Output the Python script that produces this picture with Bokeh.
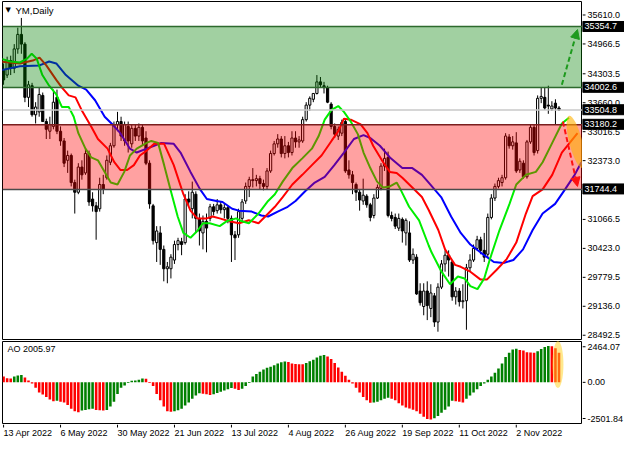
from bokeh.plotting import figure
from bokeh.layouts import column, row
from bokeh.models import (Range1d, Label, Arrow, NormalHead, ColumnDataSource,
                          BoxAnnotation, Span, Spacer)
from bokeh.core.properties import value
from bokeh.embed import file_html
from bokeh.resources import INLINE

FONT = "Liberation Sans"

# ---------------- data ----------------
date_tick_idx = [0, 16, 32, 48, 64, 80, 96, 112, 128, 144]
date_tick_labels = ["13 Apr 2022", "6 May 2022", "30 May 2022", "21 Jun 2022", "13 Jul 2022",
                    "4 Aug 2022", "26 Aug 2022", "19 Sep 2022", "11 Oct 2022", "2 Nov 2022"]

open_ = [34387, 34280, 34601, 34430, 34859, 35181, 34966, 33786, 34044, 33400,
         33464, 33829, 33250, 33035, 33142, 33786, 33035, 32820, 32391, 32498,
         31898, 31683, 32241, 32112, 32541, 31533, 31382, 31318, 31855, 32005,
         32348, 32713, 33185, 33250, 32820, 33142, 32756, 33099, 32928, 33121,
         32885, 32327, 31382, 30567, 30782, 30417, 29988, 29988, 30181, 30524,
         30588, 30567, 31533, 31318, 31640, 31104, 30782, 31039, 31104, 31361,
         31275, 31404, 31297, 31340, 31104, 30739, 30739, 31104, 31490, 31812,
         31962, 31941, 31984, 31876, 31812, 32155, 32541, 32756, 32863, 32541,
         32713, 32563, 32885, 32799, 32820, 33292, 33614, 33743, 33872, 34129,
         34044, 34001, 33636, 33142, 32928, 32992, 33250, 32177, 32069, 31855,
         31683, 31490, 31597, 31404, 31168, 31554, 31769, 32262, 32455, 31168,
         31125, 30889, 31082, 30782, 30782, 30181, 30245, 29494, 29151, 29494,
         29108, 29387, 28807, 29580, 30095, 30288, 30138, 29365, 29494, 29258,
         29279, 30009, 30181, 30438, 30631, 30395, 30309, 31125, 31554, 31812,
         31898, 32005, 32906, 32713, 32777, 32177, 32327, 32026, 32799, 33121,
         32606, 33764, 33786, 33614, 33529, 33657, 33550]
high_ = [34537, 34687, 34709, 34966, 35331, 35546, 35009, 34151, 34108, 33679,
         34001, 33893, 33314, 33357, 33958, 33958, 33142, 32885, 32606, 32541,
         31962, 32327, 32391, 32649, 32606, 31683, 31468, 32005, 32069, 32498,
         32777, 33250, 33464, 33357, 33250, 33250, 33185, 33185, 33207, 33185,
         33035, 32391, 31425, 30932, 30932, 30503, 30138, 30310, 30610, 30674,
         30674, 31640, 31704, 31919, 31704, 31211, 31168, 31211, 31425, 31425,
         31533, 31468, 31425, 31382, 31168, 30825, 31318, 31533, 31898, 32026,
         32219, 32069, 32048, 31962, 32219, 32606, 32820, 32971, 32928, 32928,
         32799, 33035, 33035, 32928, 33357, 33679, 33807, 33872, 34280, 34237,
         34129, 34044, 33679, 33207, 33142, 33292, 33314, 32391, 32155, 31898,
         31747, 31984, 31640, 31447, 31640, 31855, 32327, 32649, 32584, 31254,
         31211, 31211, 31125, 31104, 31039, 30438, 30310, 29666, 29666, 29709,
         29644, 29451, 29666, 30181, 30395, 30395, 30181, 29580, 29559, 29644,
         30095, 30309, 30524, 30717, 30696, 30782, 31211, 31640, 31876, 32005,
         32069, 32992, 32971, 32928, 33014, 32434, 32391, 32842, 33185, 33185,
         33829, 34001, 34001, 34044, 33700, 33743, 33593]
low_ = [34065, 34215, 34280, 34323, 34752, 34752, 33679, 33571, 33357, 33207,
        33357, 33250, 32863, 32863, 33078, 32971, 32713, 32241, 32112, 31812,
        31211, 31640, 31962, 32069, 31382, 31254, 30631, 31254, 31640, 31962,
        32284, 32670, 33035, 32820, 32713, 32563, 32670, 32820, 32820, 32713,
        32284, 31318, 30524, 30138, 30074, 29709, 29666, 29773, 30095, 30395,
        30288, 30524, 31382, 31104, 30782, 30503, 30417, 30352, 31039, 31168,
        31211, 31211, 31104, 30996, 30138, 30181, 30674, 31039, 31425, 31576,
        31790, 31812, 31747, 31726, 31747, 32112, 32498, 32670, 32455, 32434,
        32455, 32498, 32670, 32670, 32777, 33250, 33486, 33679, 33850, 34001,
        33872, 33657, 33078, 32885, 32842, 32928, 32112, 31984, 31640, 31490,
        31275, 31404, 31340, 31039, 31104, 31533, 31726, 32155, 31125, 31039,
        30868, 30825, 30567, 30503, 30138, 30095, 29408, 29172, 28957, 28850,
        28915, 28700, 28593, 29537, 29923, 29815, 29279, 29194, 29151, 29108,
        28636, 29923, 30138, 30395, 30309, 30138, 30245, 31082, 31490, 31769,
        31812, 31962, 32649, 32627, 32112, 32112, 31984, 31984, 32756, 32498,
        32541, 33657, 33507, 33421, 33486, 33185, 33486]
close_ = [34172, 34601, 34430, 34859, 35181, 34966, 33786, 34065, 33400, 33571,
          33850, 33250, 33078, 33185, 33679, 33035, 32820, 32327, 32498, 31898,
          31683, 32241, 32069, 32541, 31468, 31382, 31254, 31855, 31747, 32391,
          32713, 33185, 33250, 32928, 33185, 32820, 33099, 32928, 33121, 32820,
          32327, 31425, 30610, 30825, 30417, 29988, 30031, 30245, 30524, 30610,
          30524, 31533, 31468, 31683, 31104, 30825, 31039, 30889, 31361, 31254,
          31404, 31297, 31340, 31104, 30739, 30674, 31254, 31468, 31812, 31962,
          31941, 31984, 31876, 31812, 32155, 32541, 32756, 32863, 32541, 32713,
          32563, 32885, 32799, 32842, 33292, 33614, 33764, 33872, 34129, 34065,
          34001, 33679, 33142, 32971, 33078, 33228, 32155, 32069, 31898, 31683,
          31511, 31618, 31404, 31125, 31554, 31790, 32262, 32434, 31168, 31104,
          30932, 31104, 30825, 31061, 30181, 30309, 29430, 29236, 29494, 29172,
          29451, 28807, 29580, 30095, 30288, 30181, 29365, 29494, 29258, 29279,
          30009, 30181, 30438, 30631, 30395, 30245, 31125, 31554, 31812, 31941,
          32005, 32928, 32713, 32799, 32155, 32370, 32026, 32799, 33121, 32563,
          33764, 33807, 33550, 33593, 33593, 33550, 33505]

# Alligator lines (bar position, price)
jaw_x = [-0.8, 4.6, 10.1, 12.8, 14.8, 17.5, 21.0, 23.2, 25.7, 28.4,
         30.6, 32.8, 35.5, 37.4, 40.2, 42.3, 44.3, 47.8, 49.7, 52.5,
         55.2, 57.1, 59.8, 61.5, 64.2, 66.1, 69.7, 72.4, 74.3, 77.0,
         79.8, 82.0, 84.7, 87.4, 90.2, 92.9, 95.6, 98.4, 101.1, 103.0,
         105.7, 108.5, 112.0, 114.8, 117.5, 119.4, 122.9, 125.7, 128.4, 131.1,
         133.9, 137.7, 140.4, 143.2, 145.9, 148.6, 151.4, 154.9, 157.7, 160.4, 162.3]
jaw_y = [34387, 34473, 34494, 34580, 34537, 34280, 34044, 33958, 33722, 33357,
         33185, 32992, 32649, 32563, 32649, 32713, 32777, 32756, 32563, 32134,
         31747, 31533, 31490, 31468, 31318, 31275, 31254, 31168, 31146, 31254,
         31361, 31490, 31704, 31898, 32026, 32284, 32563, 32863, 32949, 32885,
         32713, 32455, 32219, 32219, 32069, 31898, 31576, 31146, 30782, 30524,
         30352, 30138, 30116, 30181, 30417, 30846, 31211, 31425, 31747, 32069, 32348]

teeth_x = [-0.8, 4.6, 8.2, 10.1, 12.0, 14.8, 16.4, 18.3, 20.2, 21.9,
           24.6, 26.5, 29.2, 31.1, 32.8, 34.7, 36.6, 38.3, 40.2, 42.3,
           45.1, 47.8, 50.5, 52.5, 54.4, 57.1, 58.7, 60.7, 63.4, 66.1,
           68.9, 71.6, 73.5, 76.2, 78.4, 81.1, 83.9, 86.6, 89.3, 92.1,
           94.0, 95.6, 97.5, 100.3, 102.2, 103.8, 106.6, 108.5, 110.4, 112.0,
           114.8, 117.5, 119.4, 122.1, 124.0, 126.8, 128.4, 131.1, 133.9, 135.8,
           138.5, 141.3, 144.0, 146.7, 148.6, 151.4, 154.1, 156.8, 161.2]
teeth_y = [34580, 34537, 34601, 34666, 34494, 34172, 34001, 33829, 33786, 33507,
           33142, 32863, 32649, 32348, 32177, 32177, 32284, 32498, 32606, 32756,
           32756, 32284, 31640, 31275, 31104, 31104, 31146, 31104, 31039, 30996,
           31061, 30996, 31146, 31361, 31576, 31855, 32069, 32284, 32498, 32820,
           33035, 33314, 33292, 33185, 32992, 32713, 32348, 32134, 32112, 32005,
           31790, 31576, 31290, 30846, 30417, 30074, 30031, 29923, 29752, 29752,
           29966, 30202, 30567, 31211, 31597, 31747, 32069, 32563, 32992]

lips_x = [-0.8, 1.9, 4.6, 6.6, 7.9, 9.3, 10.9, 12.8, 14.8, 16.4,
          18.3, 19.7, 21.0, 23.0, 24.6, 26.5, 28.4, 30.1, 32.0, 33.9,
          35.5, 37.4, 40.2, 41.5, 43.4, 45.1, 47.0, 48.9, 50.5, 52.5,
          54.4, 56.0, 57.9, 60.7, 62.6, 65.3, 66.9, 68.9, 71.6, 74.3,
          76.2, 78.4, 81.1, 83.9, 86.6, 88.5, 90.2, 92.1, 94.0, 95.6,
          97.5, 99.5, 101.1, 103.0, 104.9, 106.6, 108.5, 110.4, 111.2, 113.9,
          116.7, 119.4, 120.2, 123.0, 125.4, 127.6, 129.5, 131.1, 133.1, 135.0,
          136.6, 139.3, 142.1, 144.0, 146.7, 149.5, 151.4, 154.1, 156.8, 158.8]
lips_y = [34644, 34580, 34559, 34644, 34752, 34644, 34280, 34044, 33850, 33571,
          33571, 33357, 32992, 32649, 32455, 32391, 32134, 31898, 31855, 32134,
          32498, 32649, 32777, 32820, 32777, 32284, 31704, 31146, 30782, 30674,
          30825, 30996, 30996, 30932, 31039, 31104, 31039, 30996, 31211, 31490,
          31640, 31919, 32219, 32434, 32649, 32928, 33292, 33507, 33593, 33464,
          33250, 32971, 32563, 32219, 31919, 31790, 31812, 31898, 31790, 31361,
          31061, 30503, 30352, 29923, 29644, 29815, 29773, 29602, 29537, 29773,
          30202, 30846, 31425, 31855, 32069, 32134, 32348, 32777, 33207, 33335]

# Awesome Oscillator
ao = [394, 285, 263, 394, 460, 504, 329, 131, -85, -360,
      -678, -827, -996, -1166, -1272, -1250, -1314, -1357, -1526, -1781,
      -1950, -2014, -1908, -1866, -1823, -1781, -1866, -1887, -1908, -1866,
      -1632, -1314, -784, -360, -212, -42, 110, 131, 175, 263,
      241, -42, -254, -784, -1208, -1632, -1950, -1993, -1950, -1887,
      -1781, -1569, -1357, -1102, -890, -742, -763, -806, -848, -806,
      -721, -636, -551, -466, -382, -424, -509, -424, -254, -42,
      394, 569, 723, 876, 986, 1051, 1161, 1270, 1358, 1402,
      1380, 1270, 1248, 1226, 1220, 1314, 1424, 1533, 1686, 1796,
      1840, 1752, 1577, 1314, 1007, 723, 438, 175, -85, -360,
      -678, -996, -1208, -1378, -1357, -1314, -1208, -1102, -1039, -1102,
      -1208, -1420, -1569, -1696, -1760, -1844, -1950, -2120, -2332, -2480,
      -2501.84, -2417, -2268, -2056, -1844, -1632, -1250, -1272, -1314, -1357,
      -1102, -890, -678, -466, -254, -85, 175, 394, 657, 942,
      1270, 1708, 1993, 2212, 2278, 2190, 2146, 2037, 2015, 1993,
      2102, 2256, 2380, 2464.07, 2440, 2300, 2005.97]

price_ticks = [35610.0, 34966.5, 34303.5, 33660.0, 33016.5, 32373.0,
               31066.5, 30423.0, 29779.5, 29136.0, 28492.5]
price_tick_labels = ["35610.0", "34966.5", "34303.5", "33660.0", "33016.5", "32373.0",
                     "31066.5", "30423.0", "29779.5", "29136.0", "28492.5"]
ao_ticks = [2464.07, 0.0, -2501.84]
ao_tick_labels = ["2464.07", "0.00", "-2501.84"]

resistance_zone = [34002.6, 35354.7]
support_zone = [31744.4, 33180.2]
level_values = [35354.7, 34002.6, 33504.8, 33180.2, 31744.4]
level_texts = ["35354.7", "34002.6", "33504.8", "33180.2", "31744.4"]

n = len(open_)
assert len(high_) == n and len(low_) == n and len(close_) == n and len(ao) == n

# ---------------- geometry ----------------
PW = 582        # width of chart panels (incl. 2px left border)
AW = 42         # width of right scale panels
MAIN_H = 340
AO_H = 84
XL_H = 17
P_LO, P_HI = 28420, 35910
A_LO, A_HI = -2780, 2760

x_range = Range1d(-0.3, 162.6)
idx = list(range(n))


def base_fig(w, h, xr, yr, **kw):
    f = figure(width=w, height=h, x_range=xr, y_range=yr, output_backend="svg",
               toolbar_location=None, x_axis_location=None, y_axis_location=None, **kw)
    f.grid.visible = False
    return f


# ---------------- main price panel ----------------
p = base_fig(PW, MAIN_H, x_range, Range1d(P_LO, P_HI),
             min_border_left=2, min_border_right=0, min_border_top=1, min_border_bottom=1)
p.outline_line_color = "black"

src = ColumnDataSource(dict(
    x=idx, h=high_, l=low_,
    top=[max(o, c) for o, c in zip(open_, close_)],
    bot=[min(o, c) for o, c in zip(open_, close_)],
    fill=["white" if c >= o else "black" for o, c in zip(open_, close_)],
))
p.segment(x0="x", y0="h", x1="x", y1="l", source=src, line_color="black", line_width=1)
p.vbar(x="x", width=0.62, top="top", bottom="bot", source=src,
       fill_color="fill", line_color="black", line_width=1)

p.line(jaw_x, jaw_y, line_color="#0000ff", line_width=2)
p.line(teeth_x, teeth_y, line_color="#ff0000", line_width=2)
p.line(lips_x, lips_y, line_color="#00ee00", line_width=2)

p.add_layout(BoxAnnotation(bottom=resistance_zone[0], top=resistance_zone[1],
                           fill_color="#008000", fill_alpha=0.37, line_color=None))
p.add_layout(BoxAnnotation(bottom=support_zone[0], top=support_zone[1],
                           fill_color="#ff0000", fill_alpha=0.37, line_color=None))
level_colors = ["#2d6a2d", "#2d6a2d", "#c8c8c8", "#7a1f1f", "#4a4a4a"]
for lv, lc in zip(level_values, level_colors):
    p.add_layout(Span(location=lv, dimension="width", line_color=lc, line_width=1.5))

p.add_layout(Arrow(end=NormalHead(size=9, fill_color="#1e9a1e", line_color="#1e9a1e"),
                   x_start=156.8, y_start=34065, x_end=161.2, y_end=35288,
                   line_color="#1e9a1e", line_width=2, line_dash="5 3"))
p.add_layout(Arrow(end=NormalHead(size=9, fill_color="#ff1010", line_color="#ff1010"),
                   x_start=157.1, y_start=33250, x_end=161.2, y_end=31812,
                   line_color="#ff1010", line_width=2, line_dash="5 3"))
p.ellipse(x=[160.7], y=[32799], width=13, height=54, width_units="screen",
          height_units="screen", angle=0.25, fill_color="#ffb000", fill_alpha=0.6,
          line_color=None, level="overlay")

p.add_layout(Label(x=-0.3, y=35717, x_offset=3, text="\u25bc", text_font="DejaVu Sans",
                   text_font_size="7px", text_baseline="middle", text_color="black"))
p.add_layout(Label(x=-0.3, y=35717, x_offset=13, text="YM,Daily", text_font=FONT,
                   text_font_size="9.5px", text_baseline="middle", text_color="black"))

# right price scale (same price scale, frame 1px taller at the bottom)
px_per_unit = (MAIN_H - 2) / (P_HI - P_LO)
pa = base_fig(AW, MAIN_H, Range1d(0, AW), Range1d(P_LO - 1 / px_per_unit, P_HI),
              min_border_left=0, min_border_right=0, min_border_top=1, min_border_bottom=0)
pa.outline_line_color = None
pa.segment(x0=[0] * len(price_ticks), x1=[3] * len(price_ticks), y0=price_ticks,
           y1=price_ticks, line_color="black", line_width=1)
pa.text(x=[5] * len(price_ticks), y=price_ticks, text=price_tick_labels,
        text_font=value(FONT), text_font_size="9px", text_baseline="middle",
        text_align="left", text_color="black")
pa.rect(x=[AW / 2] * len(level_values), y=level_values, width=[AW] * len(level_values),
        height=10, height_units="screen", fill_color="black", line_color="black")
pa.text(x=[2] * len(level_values), y=level_values, text=level_texts,
        text_font=value(FONT), text_font_size="9px", text_baseline="middle",
        text_align="left", text_color="white")

# ---------------- AO panel ----------------
q = base_fig(PW, AO_H, x_range, Range1d(A_LO, A_HI),
             min_border_left=2, min_border_right=0, min_border_top=1, min_border_bottom=1)
q.outline_line_color = "black"

ao_colors = ["#ff0000"] + ["#008000" if ao[i] > ao[i - 1] else "#ff0000" for i in range(1, n)]
q.vbar(x=idx, top=ao, bottom=0, width=0.72, fill_color=ao_colors, line_color=None)
q.ellipse(x=[155.7], y=[1210], width=11, height=47, width_units="screen",
          height_units="screen", fill_color="#ffd21a", fill_alpha=0.5,
          line_color=None, level="overlay")
q.add_layout(Label(x=-0.3, y=2264, x_offset=5, text="AO 2005.97", text_font=FONT,
                   text_font_size="9px", text_baseline="middle", text_color="black"))

a_per_px = (A_HI - A_LO) / (AO_H - 2)
qa = base_fig(AW, AO_H, Range1d(0, AW), Range1d(A_LO - a_per_px, A_HI + a_per_px),
              min_border_left=0, min_border_right=0, min_border_top=0, min_border_bottom=0)
qa.outline_line_color = None
qa.segment(x0=[0] * len(ao_ticks), x1=[3] * len(ao_ticks), y0=ao_ticks, y1=ao_ticks,
           line_color="black", line_width=1)
qa.text(x=[5] * len(ao_ticks), y=ao_ticks, text=ao_tick_labels,
        text_font=value(FONT), text_font_size="9px", text_baseline="middle",
        text_align="left", text_color="black")

# ---------------- date labels strip ----------------
xs = base_fig(PW, XL_H, x_range, Range1d(0, XL_H),
              min_border_left=2, min_border_right=0, min_border_top=0, min_border_bottom=0)
xs.outline_line_color = None
xs.segment(x0=date_tick_idx, x1=date_tick_idx, y0=[XL_H] * len(date_tick_idx),
           y1=[XL_H - 3] * len(date_tick_idx), line_color="black", line_width=1)
xs.text(x=date_tick_idx, y=[XL_H - 3] * len(date_tick_idx), text=date_tick_labels,
        text_font=value(FONT), text_font_size="9px", text_baseline="top",
        text_align="left", text_color="black")

layout = column(row(p, pa, spacing=0), row(q, qa, spacing=0),
                row(xs, Spacer(width=AW, height=XL_H), spacing=0), spacing=0)
open("out.html", "w").write(file_html(layout, INLINE))
